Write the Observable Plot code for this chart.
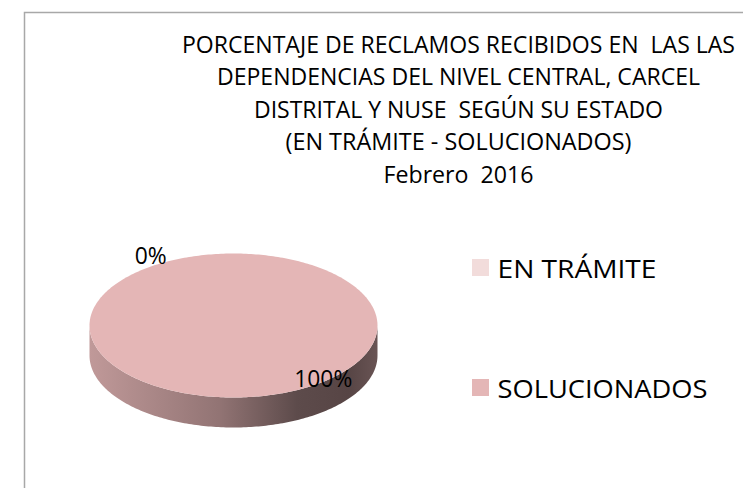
<!DOCTYPE html>
<html><head><meta charset="utf-8">
<script src="https://cdn.jsdelivr.net/npm/d3@7"></script>
<script src="https://cdn.jsdelivr.net/npm/@observablehq/plot@0.6"></script>
<style>
html,body{margin:0;padding:0;background:#fff;overflow:hidden;}
svg text{white-space:pre;}
</style></head><body><div id="chart"></div>
<script>
// ---- data ----
const titleLines = [
  "PORCENTAJE DE RECLAMOS RECIBIDOS EN  LAS LAS",
  "DEPENDENCIAS DEL NIVEL CENTRAL, CARCEL",
  "DISTRITAL Y NUSE  SEGÚN SU ESTADO",
  "(EN TRÁMITE - SOLUCIONADOS)",
  "Febrero  2016"
];
const categories = ["EN TRÁMITE", "SOLUCIONADOS"];
const values = [0, 100];
const colors = ["#f2dcdb", "#e4b6b6"];

// ---- layout ----
const W = 743, H = 488;
const FONT = "'Open Sans', Lato, sans-serif";
const cx = 233, cy = 325, rx = 144, ry = 72, depth = 30;
const firstAngle = -35 * Math.PI / 180;
const titleX = 458, titleY0 = 52, titleStep = 32.5;
const titleWidths = [553, 483, 409, 346, 150];
const legendX = 472, legendY0 = 259, legendStep = 120, sw = 17;
const legendWidths = [159, 210];

const total = d3.sum(values);
let acc = firstAngle;
const slices = categories.map((c, i) => {
  const a0 = acc, a1 = acc + values[i] / total * 2 * Math.PI;
  acc = a1;
  return {c, i, a0, a1, v: values[i], mid: (a0 + a1) / 2};
});
const pt = (a, dy = 0, r = 1) => ({x: cx + rx * r * Math.sin(a), y: cy - ry * r * Math.cos(a) + dy});
const arc = (a0, a1, dy = 0) => {
  const n = Math.max(2, Math.ceil(Math.abs(a1 - a0) / (Math.PI / 180)));
  return d3.range(n + 1).map(k => pt(a0 + (a1 - a0) * k / n, dy));
};

const topMarks = [], sideMarks = [];
slices.forEach(s => {
  if (s.v <= 0) return;
  const full = s.v >= total;
  const topPts = full ? arc(s.a0, s.a1) : [{x: cx, y: cy}, ...arc(s.a0, s.a1)];
  topMarks.push(Plot.line(topPts, {x: "x", y: "y", curve: "linear-closed", fill: colors[s.i], stroke: "none"}));
  for (const k of [-1, 0, 1]) {
    const f0 = Math.PI / 2 + k * 2 * Math.PI, f1 = 3 * Math.PI / 2 + k * 2 * Math.PI;
    const s0 = Math.max(s.a0, f0), s1 = Math.min(s.a1, f1);
    if (s1 > s0) {
      const side = [...arc(s0, s1), ...arc(s1, s0, depth)];
      sideMarks.push(Plot.line(side, {x: "x", y: "y", curve: "linear-closed", fill: `url(#side${s.i})`, stroke: "none"}));
    }
  }
});

const labels = slices.map(s => {
  const p = pt(s.mid, 0, s.v === 0 ? 1.1 : 0.99);
  return {x: p.x + 8, y: p.y + 3, text: d3.format(".0%")(s.v / total)};
});
const labelWidths = [32, 58];

const legend = categories.map((c, i) => ({c, i, y: legendY0 + i * legendStep}));

const chart = Plot.plot({
  width: W, height: H,
  marginLeft: 24, marginTop: 12, marginRight: 0, marginBottom: 0,
  x: {domain: [0, W], range: [0, W], axis: null},
  y: {domain: [0, H], range: [0, H], axis: null},
  style: {fontFamily: FONT, background: "#fff", color: "#000", overflow: "hidden"},
  color: {type: "identity"},
  marks: [
    Plot.frame({stroke: "#a8a8a8", strokeWidth: 1.5, insetRight: -5, insetBottom: -5}),
    ...sideMarks,
    ...topMarks,
    Plot.text(titleLines, {x: () => titleX, y: (d, i) => titleY0 + i * titleStep, text: d => d,
      textAnchor: "middle", lineAnchor: "bottom", fontSize: 23, fill: "#000"}),
    Plot.text(labels, {x: "x", y: "y", text: "text", textAnchor: "middle", lineAnchor: "bottom",
      fontSize: 23, fill: "#000"}),
    Plot.rect(legend, {x1: () => legendX, x2: () => legendX + sw, y1: "y", y2: d => d.y + sw,
      fill: d => colors[d.i]}),
    Plot.text(legend, {x: () => legendX + sw + 8, y: d => d.y + 18, text: "c", textAnchor: "start",
      lineAnchor: "bottom", fontSize: 25, fill: "#000"})
  ]
});

// gradient defs for the pie's side walls
const defs = d3.select(chart).insert("defs", ":first-child");
colors.forEach((c, i) => {
  const g = defs.append("linearGradient").attr("id", `side${i}`)
    .attr("x1", "0").attr("x2", "1").attr("y1", "0").attr("y2", "0");
  const stops = [[0, 0.84], [0.45, 0.64], [0.72, 0.41], [0.9, 0.38], [1, 0.46]];
  const col = d3.rgb(c);
  stops.forEach(([o, k]) => {
    g.append("stop").attr("offset", o)
      .attr("stop-color", d3.rgb(col.r * k, col.g * k, col.b * k).formatHex());
  });
});
document.getElementById("chart").appendChild(chart);

// fit text widths to the reference (text groups in mark order: title, labels, legend)
const textGroups = d3.select(chart).selectAll('g[aria-label="text"]').nodes();
const fit = (node, widths) => {
  if (!node) return;
  d3.select(node).selectAll("text").each(function(_, i) {
    if (widths[i]) { this.setAttribute("textLength", widths[i]); this.setAttribute("lengthAdjust", "spacingAndGlyphs"); }
  });
};
fit(textGroups[0], titleWidths);
fit(textGroups[1], labelWidths);
fit(textGroups[2], legendWidths);
</script></body></html>
